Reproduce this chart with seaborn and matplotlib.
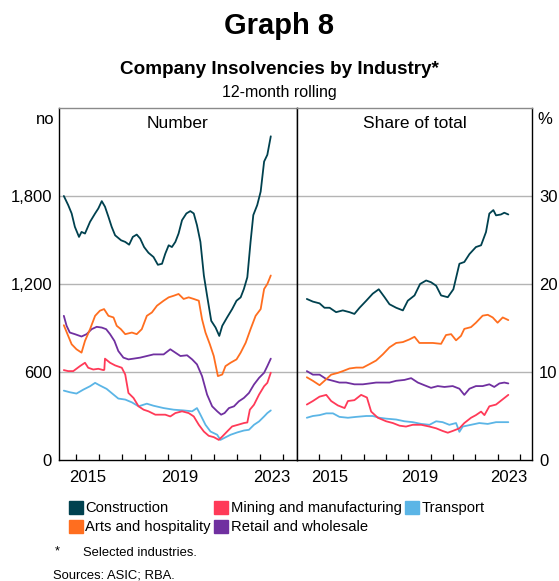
import pandas as pd
import matplotlib.pyplot as plt
import matplotlib.patches as mpatches
import seaborn as sns

# ---- data: (decimal year, value) ----
industries = ["Construction", "Arts and hospitality", "Mining and manufacturing",
              "Retail and wholesale", "Transport"]
colours = {
    "Construction": "#00414f",
    "Arts and hospitality": "#ff6e1f",
    "Mining and manufacturing": "#ff3a58",
    "Retail and wholesale": "#7030a0",
    "Transport": "#5bb5e6",
}

# Number (12-month rolling)
num_construction_x = [2014.46, 2014.65, 2014.80, 2014.94, 2015.12, 2015.23, 2015.38, 2015.60, 2015.82, 2015.96,
                      2016.11, 2016.25, 2016.40, 2016.54, 2016.69, 2016.95, 2017.13, 2017.30, 2017.46, 2017.63,
                      2017.78, 2017.95, 2018.14, 2018.36, 2018.55, 2018.73, 2018.87, 2019.02, 2019.16, 2019.31,
                      2019.45, 2019.60, 2019.79, 2019.96, 2020.11, 2020.25, 2020.40, 2020.55, 2020.69, 2020.87,
                      2021.06, 2021.22, 2021.35, 2021.56, 2021.78, 2021.97, 2022.15, 2022.29, 2022.44, 2022.58,
                      2022.70, 2022.87, 2023.02, 2023.17, 2023.31, 2023.46]
num_construction = [1800, 1738, 1681, 1590, 1521, 1555, 1544, 1624, 1681, 1715,
                    1765, 1727, 1658, 1590, 1532, 1498, 1487, 1468, 1521, 1537,
                    1510, 1452, 1413, 1384, 1331, 1338, 1406, 1464, 1452, 1487,
                    1544, 1635, 1681, 1697, 1681, 1601, 1487, 1258, 1120, 949,
                    903, 846, 915, 972, 1029, 1086, 1109, 1166, 1246, 1487,
                    1670, 1738, 1830, 2035, 2081, 2207]

num_arts_x = [2014.46, 2014.65, 2014.80, 2015.01, 2015.23, 2015.38, 2015.60, 2015.82, 2016.03, 2016.21,
              2016.40, 2016.62, 2016.76, 2016.94, 2017.13, 2017.42, 2017.63, 2017.85, 2018.07, 2018.29,
              2018.51, 2018.80, 2019.02, 2019.24, 2019.45, 2019.67, 2019.89, 2020.11, 2020.33, 2020.47,
              2020.62, 2020.81, 2020.98, 2021.16, 2021.35, 2021.49, 2021.71, 2021.97, 2022.15, 2022.37,
              2022.58, 2022.80, 2023.02, 2023.17, 2023.31, 2023.46]
num_arts = [919, 846, 789, 755, 732, 812, 892, 983, 1018, 1029,
            983, 972, 915, 892, 858, 869, 858, 892, 983, 1006,
            1052, 1086, 1109, 1120, 1132, 1098, 1109, 1098, 1086, 960,
            869, 789, 709, 572, 583, 640, 663, 686, 732, 800,
            892, 983, 1029, 1166, 1200, 1258]

num_mining_x = [2014.46, 2014.65, 2014.87, 2015.16, 2015.38, 2015.52, 2015.74, 2015.96, 2016.18, 2016.22,
                2016.25, 2016.47, 2016.69, 2016.98, 2017.13, 2017.27, 2017.49, 2017.71, 2017.93, 2018.14,
                2018.44, 2018.65, 2018.87, 2019.09, 2019.31, 2019.60, 2019.89, 2020.11, 2020.33, 2020.55,
                2020.76, 2020.98, 2021.20, 2021.35, 2021.56, 2021.78, 2022.03, 2022.29, 2022.44, 2022.55,
                2022.73, 2022.95, 2023.17, 2023.31, 2023.46]
num_mining = [613, 606, 606, 640, 663, 629, 617, 622, 613, 615,
              691, 663, 645, 629, 583, 457, 423, 366, 343, 332,
              309, 309, 309, 297, 320, 332, 320, 297, 240, 194,
              165, 156, 137, 160, 194, 229, 240, 252, 256, 343,
              377, 446, 503, 526, 595]

num_retail_x = [2014.46, 2014.58, 2014.72, 2014.94, 2015.23, 2015.45, 2015.67, 2015.89, 2016.11, 2016.30,
                2016.47, 2016.66, 2016.83, 2017.05, 2017.27, 2017.49, 2017.78, 2018.07, 2018.36, 2018.80,
                2019.09, 2019.31, 2019.53, 2019.82, 2020.04, 2020.25, 2020.47, 2020.69, 2020.91, 2021.13,
                2021.30, 2021.45, 2021.64, 2021.86, 2022.07, 2022.29, 2022.51, 2022.73, 2022.95, 2023.17,
                2023.31, 2023.46]
num_retail = [983, 915, 869, 858, 842, 858, 892, 908, 903, 892,
              858, 812, 743, 698, 686, 691, 698, 709, 720, 720,
              755, 732, 709, 714, 686, 652, 572, 446, 366, 332,
              309, 320, 354, 366, 400, 423, 457, 515, 560, 595,
              640, 691]

num_transport_x = [2014.46, 2014.72, 2015.01, 2015.31, 2015.60, 2015.82, 2016.03, 2016.32, 2016.62, 2016.83,
                   2017.13, 2017.42, 2017.71, 2018.07, 2018.36, 2018.80, 2019.24, 2019.67, 2020.04, 2020.25,
                   2020.40, 2020.62, 2020.84, 2021.13, 2021.27, 2021.42, 2021.71, 2022.00, 2022.29, 2022.51,
                   2022.73, 2022.95, 2023.17, 2023.31, 2023.46]
num_transport = [473, 462, 453, 480, 503, 526, 508, 485, 446, 419,
                 412, 393, 366, 384, 370, 354, 343, 338, 332, 354,
                 309, 240, 194, 172, 137, 149, 172, 188, 201, 206,
                 240, 263, 297, 320, 338]

# Share of total (%)
shr_construction_x = [2014.46, 2014.73, 2015.03, 2015.25, 2015.48, 2015.77, 2016.07, 2016.37, 2016.59, 2016.82,
                      2017.12, 2017.41, 2017.68, 2017.94, 2018.16, 2018.46, 2018.76, 2018.98, 2019.28, 2019.53,
                      2019.80, 2020.02, 2020.25, 2020.47, 2020.77, 2021.02, 2021.29, 2021.51, 2021.74, 2022.03,
                      2022.26, 2022.48, 2022.63, 2022.81, 2022.93, 2023.15, 2023.30, 2023.48]
shr_construction = [18.3, 18.0, 17.8, 17.3, 17.3, 16.8, 17.0, 16.8, 16.6, 17.3,
                    18.1, 18.9, 19.4, 18.5, 17.7, 17.3, 17.0, 18.1, 18.7, 20.0,
                    20.4, 20.2, 19.8, 18.7, 18.5, 19.4, 22.3, 22.5, 23.4, 24.2,
                    24.4, 25.9, 28.0, 28.4, 27.8, 27.9, 28.1, 27.9]

shr_arts_x = [2014.46, 2014.73, 2015.03, 2015.25, 2015.55, 2015.85, 2016.07, 2016.37, 2016.67, 2016.97,
              2017.27, 2017.56, 2017.86, 2018.16, 2018.46, 2018.76, 2019.05, 2019.28, 2019.50, 2019.80,
              2020.10, 2020.47, 2020.69, 2020.92, 2021.14, 2021.36, 2021.51, 2021.81, 2022.03, 2022.33,
              2022.56, 2022.78, 2023.00, 2023.23, 2023.48]
shr_arts = [9.4, 9.0, 8.5, 9.0, 9.7, 9.9, 10.1, 10.4, 10.5, 10.5,
            10.9, 11.3, 12.0, 12.8, 13.3, 13.4, 13.7, 14.0, 13.3, 13.3,
            13.3, 13.2, 14.2, 14.3, 13.6, 14.1, 14.9, 15.1, 15.6, 16.4,
            16.5, 16.2, 15.6, 16.2, 15.9]

shr_mining_x = [2014.46, 2014.73, 2015.03, 2015.33, 2015.55, 2015.85, 2016.15, 2016.30, 2016.59, 2016.89,
                2017.15, 2017.34, 2017.64, 2018.01, 2018.31, 2018.61, 2018.90, 2019.20, 2019.58, 2019.95,
                2020.25, 2020.54, 2020.77, 2020.99, 2021.29, 2021.51, 2021.81, 2022.03, 2022.26, 2022.41,
                2022.63, 2022.93, 2023.23, 2023.48]
shr_mining = [6.3, 6.7, 7.2, 7.4, 6.7, 6.2, 5.9, 6.7, 6.8, 7.4,
              7.1, 5.5, 4.8, 4.4, 4.2, 3.9, 3.8, 4.0, 4.0, 3.8,
              3.6, 3.3, 3.1, 3.3, 3.6, 4.2, 4.8, 5.1, 5.5, 5.1,
              6.1, 6.3, 6.9, 7.4]

shr_retail_x = [2014.46, 2014.73, 2015.03, 2015.33, 2015.63, 2015.92, 2016.22, 2016.59, 2016.97, 2017.27,
                2017.56, 2017.86, 2018.16, 2018.46, 2018.83, 2019.13, 2019.43, 2019.72, 2020.02, 2020.32,
                2020.62, 2020.99, 2021.29, 2021.51, 2021.74, 2022.03, 2022.33, 2022.63, 2022.85, 2023.08,
                2023.30, 2023.48]
shr_retail = [10.1, 9.7, 9.7, 9.2, 9.0, 8.8, 8.8, 8.6, 8.6, 8.7,
              8.8, 8.8, 8.8, 9.0, 9.1, 9.3, 8.8, 8.5, 8.2, 8.4,
              8.3, 8.4, 8.1, 7.4, 8.1, 8.4, 8.4, 8.6, 8.3, 8.7,
              8.8, 8.7]

shr_transport_x = [2014.46, 2014.73, 2015.03, 2015.33, 2015.63, 2015.92, 2016.30, 2016.67, 2017.12, 2017.41,
                   2017.71, 2018.01, 2018.46, 2018.83, 2019.20, 2019.58, 2019.95, 2020.25, 2020.54, 2020.84,
                   2021.14, 2021.29, 2021.44, 2021.81, 2022.18, 2022.56, 2022.93, 2023.48]
shr_transport = [4.8, 5.0, 5.1, 5.3, 5.3, 4.9, 4.8, 4.9, 5.0, 5.0,
                 4.8, 4.7, 4.6, 4.4, 4.3, 4.1, 4.0, 4.4, 4.3, 4.0,
                 4.2, 3.2, 3.8, 4.0, 4.2, 4.1, 4.3, 4.3]

num_series = {
    "Construction": (num_construction_x, num_construction),
    "Arts and hospitality": (num_arts_x, num_arts),
    "Mining and manufacturing": (num_mining_x, num_mining),
    "Retail and wholesale": (num_retail_x, num_retail),
    "Transport": (num_transport_x, num_transport),
}
shr_series = {
    "Construction": (shr_construction_x, shr_construction),
    "Arts and hospitality": (shr_arts_x, shr_arts),
    "Mining and manufacturing": (shr_mining_x, shr_mining),
    "Retail and wholesale": (shr_retail_x, shr_retail),
    "Transport": (shr_transport_x, shr_transport),
}


def to_long(series):
    rows = []
    for name, (xs, ys) in series.items():
        for x, y in zip(xs, ys):
            rows.append({"industry": name, "year": x, "value": y})
    return pd.DataFrame(rows)


df_num = to_long(num_series)
df_shr = to_long(shr_series)

sns.set_theme(style="white")
plt.rcParams["font.family"] = ["Liberation Sans", "DejaVu Sans"]
plt.rcParams["text.color"] = "black"
plt.rcParams["xtick.color"] = "black"
plt.rcParams["ytick.color"] = "black"
plt.rcParams["axes.labelcolor"] = "black"

fig = plt.figure(figsize=(5.59, 5.81), dpi=100)
ax1 = fig.add_axes([59 / 559, 1 - 460 / 581, 238 / 559, 352 / 581])
ax2 = fig.add_axes([297 / 559, 1 - 460 / 581, 235 / 559, 352 / 581])

# draw order: transport first so construction sits on top
order = ["Transport", "Mining and manufacturing", "Retail and wholesale",
         "Arts and hospitality", "Construction"]

for ax, df, ylim, yticks, ylabels in [
    (ax1, df_num, 2400, [0, 600, 1200, 1800], ["0", "600", "1,200", "1,800"]),
    (ax2, df_shr, 40, [0, 10, 20, 30], ["0", "10", "20", "30"]),
]:
    for name in order:
        sub = df[df["industry"] == name]
        sns.lineplot(data=sub, x="year", y="value", color=colours[name],
                     linewidth=1.3, ax=ax, legend=False, zorder=3)
    ax.set_ylim(0, ylim)
    ax.set_yticks(yticks)
    ax.set_yticklabels(ylabels)
    ax.set_xlabel("")
    ax.set_ylabel("")
    for y in yticks[1:]:
        ax.axhline(y, color="#b4b4b4", linewidth=1.0, zorder=1)
    # year-start ticks pointing in, labels mid-year
    ax.set_xticks(list(range(2015, 2025)))
    ax.set_xticklabels([])
    ax.set_xticks([2015.5, 2019.5, 2023.5], minor=True)
    ax.set_xticklabels(["2015", "2019", "2023"], minor=True)
    ax.tick_params(axis="x", which="major", direction="in", length=4.5,
                   width=0.9, color="black", bottom=True)
    ax.tick_params(axis="x", which="minor", length=0, pad=7, labelsize=12)
    ax.tick_params(axis="y", length=0, labelsize=12, pad=5)
    for s in ["left", "right", "bottom"]:
        ax.spines[s].set_color("black")
        ax.spines[s].set_linewidth(1.0)
    ax.spines["top"].set_color("#8a8a8a")
    ax.spines["top"].set_linewidth(1.0)

ax1.set_xlim(2014.25, 2024.6)
ax2.set_xlim(2014.02, 2024.54)
ax2.yaxis.tick_right()
ax2.tick_params(axis="y", length=0, labelsize=12, pad=5)

ax1.text(0.5, 0.955, "Number", transform=ax1.transAxes, ha="center", va="center", fontsize=12.5)
ax2.text(0.5, 0.955, "Share of total", transform=ax2.transAxes, ha="center", va="center", fontsize=12.5)

fig.text(45 / 559, 1 - 119 / 581, "no", ha="center", va="center", fontsize=12)
fig.text(545 / 559, 1 - 119 / 581, "%", ha="center", va="center", fontsize=12)

fig.text(0.5, 1 - 26 / 581, "Graph 8", ha="center", va="center", fontsize=21, fontweight="bold")
fig.text(0.5, 1 - 70 / 581, "Company Insolvencies by Industry*", ha="center", va="center",
         fontsize=13.6, fontweight="bold")
fig.text(0.5, 1 - 92 / 581, "12-month rolling", ha="center", va="center", fontsize=11.5)

handles = [mpatches.Patch(color=colours[n], label=n) for n in industries]
fig.legend(handles=handles, loc="upper left", bbox_to_anchor=(69 / 559, 1 - 501 / 581),
           ncol=3, frameon=False, fontsize=10.6, handlelength=0.95, handleheight=0.95,
           handletextpad=0.15, columnspacing=0.25, labelspacing=0.3, borderpad=0,
           borderaxespad=0)

fig.text(55 / 559, 1 - 551 / 581, "*", ha="left", va="center", fontsize=9.4)
fig.text(83 / 559, 1 - 553 / 581, "Selected industries.", ha="left", va="center", fontsize=9.4)
fig.text(53 / 559, 1 - 575 / 581, "Sources: ASIC; RBA.", ha="left", va="center", fontsize=9.4)

fig.savefig("out.png", dpi=100)
plt.close(fig)
